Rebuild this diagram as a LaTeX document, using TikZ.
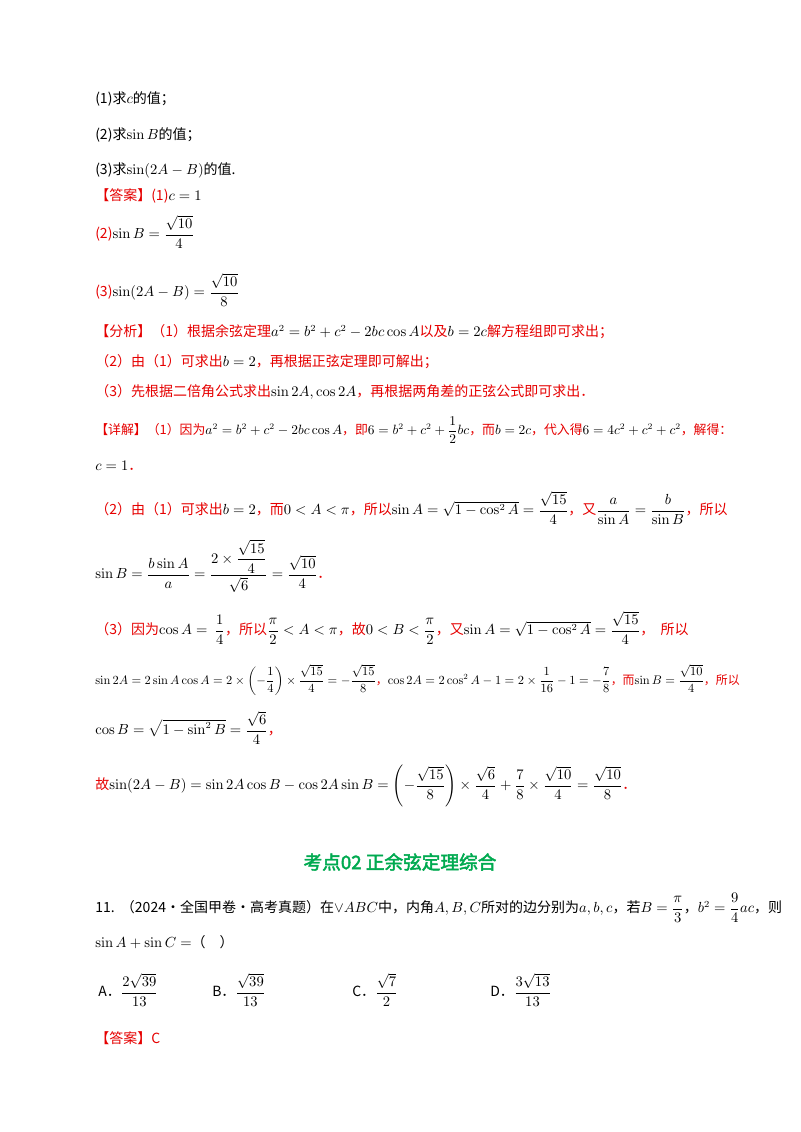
\documentclass[tikz,border=0pt]{standalone}
\usepackage{amsmath,amssymb,graphicx}
\usepackage[no-math]{fontspec}
\setmainfont{Noto Sans CJK SC}
\newfontfamily\hfont[FakeBold=2.5]{Noto Sans CJK SC}
\definecolor{myred}{RGB}{230,0,0}
\definecolor{mygreen}{RGB}{0,170,80}
\begin{document}
\begin{tikzpicture}[x=0.75pt,y=-0.75pt,
  txt/.style={anchor=west,inner sep=0pt,font=\fontsize{10.5}{12}\selectfont},
  rd/.style={txt,text=myred}]
\useasboundingbox[fill=white] (0,0) rectangle (800,1132);
\newcommand{\R}[1]{\textcolor{myred}{#1}}
\node[txt] (l1) at (95,99) {(1)求$c$的值；};
\node[txt] (l2) at (95,135) {(2)求$\sin B$的值；};
\node[txt] (l3) at (95,170) {(3)求$\sin(2A-B)$的值.};
\node[txt] (l4) at (95,196) {\R{【答案】(1)}$c=1$};
\node[txt] (l5) at (95,232) {\R{(2)}$\sin B=\dfrac{\sqrt{10}}{4}$};
\node[txt] (l6) at (95,290) {\R{(3)}$\sin(2A-B)=\dfrac{\sqrt{10}}{8}$};
\node[txt] (a1) at (95,332) {\R{【分析】（1）根据余弦定理}$a^2=b^2+c^2-2bc\cos A$\R{以及}$b=2c$\R{解方程组即可求出；}};
\node[txt] (a2) at (95,362) {\R{（2）由（1）可求出}$b=2$\R{，再根据正弦定理即可解出；}};
\node[txt] (a3) at (95,392) {\R{（3）先根据二倍角公式求出}$\sin 2A,\cos 2A$\R{，再根据两角差的正弦公式即可求出．}};
\node[txt] (d1) at (95,430) {\scalebox{0.92}{\R{【详解】（1）因为}$a^2=b^2+c^2-2bc\cos A$\R{，即}$6=b^2+c^2+\dfrac12 bc$\R{，而}$b=2c$\R{，代入得}$6=4c^2+c^2+c^2$\R{，解得：}}};
\node[txt] (d2) at (95,466) {$c=1$\R{．}};
\node[txt] (d3) at (95,508) {\R{（2）由（1）可求出}$b=2$\R{，而}$0<A<\pi$\R{，所以}$\sin A=\sqrt{1-\cos^2 A}=\dfrac{\sqrt{15}}{4}$\R{，又}$\dfrac{a}{\sin A}=\dfrac{b}{\sin B}$\R{，所以}};
\node[txt] (d4) at (95,566) {$\sin B=\dfrac{b\sin A}{a}=\dfrac{2\times\dfrac{\sqrt{15}}{4}}{\sqrt6}=\dfrac{\sqrt{10}}{4}$\R{．}};
\node[txt] (d5) at (95,628) {\R{（3）因为}$\cos A=\ \dfrac14$\R{，所以}$\dfrac{\pi}{2}<A<\pi$\R{，故}$0<B<\dfrac{\pi}{2}$\R{，又}$\sin A=\sqrt{1-\cos^2 A}=\dfrac{\sqrt{15}}{4}$\R{，\ \ 所以}};
\node[txt] (d6) at (95,680) {\scalebox{0.85}{$\sin 2A=2\sin A\cos A=2\times\left(-\dfrac14\right)\times\dfrac{\sqrt{15}}{4}=-\dfrac{\sqrt{15}}{8}$\R{，}$\cos 2A=2\cos^2A-1=2\times\dfrac1{16}-1=-\dfrac78$\R{，而}$\sin B=\dfrac{\sqrt{10}}{4}$\R{，所以}}};
\node[txt] (d7) at (95,728) {$\cos B=\sqrt{1-\sin^2 B}=\dfrac{\sqrt6}{4}$\R{，}};
\node[txt] (d8) at (95,786) {\R{故}$\sin(2A-B)=\sin 2A\cos B-\cos 2A\sin B=\left(-\dfrac{\sqrt{15}}{8}\right)\times\dfrac{\sqrt6}{4}+\dfrac78\times\dfrac{\sqrt{10}}{4}=\dfrac{\sqrt{10}}{8}$\R{．}};
\node[anchor=center,inner sep=0pt,text=mygreen,font=\fontsize{14}{16}\selectfont\hfont] (h) at (400,862) {考点02 正余弦定理综合};
\node[txt] (q1) at (95,908) {11.\ \ （2024·全国甲卷·高考真题）在$\vee ABC$中，内角$A,B,C$所对的边分别为$a,b,c$，若$B=\dfrac{\pi}{3}$，$b^2=\dfrac94 ac$，则};
\node[txt] (q2) at (95,942) {$\sin A+\sin C=$（\quad ）};
\node[txt] (oA) at (98,990) {A．$\dfrac{2\sqrt{39}}{13}$};
\node[txt] (oB) at (212,990) {B．$\dfrac{\sqrt{39}}{13}$};
\node[txt] (oC) at (352,990) {C．$\dfrac{\sqrt7}{2}$};
\node[txt] (oD) at (490,990) {D．$\dfrac{3\sqrt{13}}{13}$};
\node[rd] (ans) at (95,1038) {【答案】C};
\end{tikzpicture}
\end{document}
